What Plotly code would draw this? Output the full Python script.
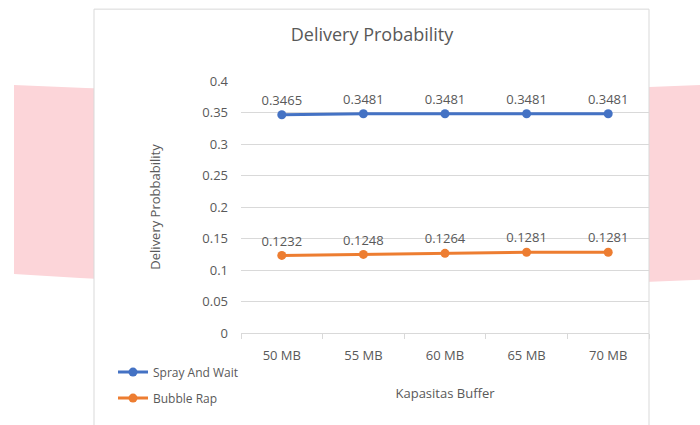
import plotly.graph_objects as go

# data
buffer_sizes = ["50 MB", "55 MB", "60 MB", "65 MB", "70 MB"]
spray_and_wait = [0.3465, 0.3481, 0.3481, 0.3481, 0.3481]
bubble_rap = [0.1232, 0.1248, 0.1264, 0.1281, 0.1281]

W, H = 700, 425
ML, MR, MT, MB = 241, 51, 81, 88
PW, PH = W - ML - MR, H - MT - MB

def px(x):
    return (x - ML) / PW

def py(y):
    return (H - MB - y) / PH

FONT = "Open Sans, Noto Sans, sans-serif"
TXT = "#595959"
GRID = "#d9d9d9"

fig = go.Figure()

fig.add_trace(go.Scatter(
    x=buffer_sizes, y=spray_and_wait, name="Spray And Wait",
    mode="lines+markers+text",
    text=[f"{v:.4f}" for v in spray_and_wait], textposition="top center",
    textfont=dict(color=TXT, size=13),
    line=dict(color="#4472C4", width=3),
    marker=dict(color="#4472C4", size=9),
    legendgroup="a",
))
fig.add_trace(go.Scatter(
    x=buffer_sizes, y=bubble_rap, name="Bubble Rap",
    mode="lines+markers+text",
    text=[f"{v:.4f}" for v in bubble_rap], textposition="top center",
    textfont=dict(color=TXT, size=13),
    line=dict(color="#ED7D31", width=3),
    marker=dict(color="#ED7D31", size=9),
    legendgroup="b",
))

# pink watermark band of the page behind the chart
band = (f"M {px(14)},{py(85)} Q {px(357)},{py(101)} {px(700)},{py(85)} "
        f"L {px(700)},{py(283)} Q {px(357)},{py(300)} {px(14)},{py(277)} Z")
fig.add_shape(type="path", path=band, xref="paper", yref="paper",
              fillcolor="#fcd5d9", line=dict(width=0), layer="below")
# chart box
fig.add_shape(type="rect", xref="paper", yref="paper",
              x0=px(94), x1=px(649), y0=py(8), y1=py(440),
              fillcolor="white", line=dict(color=GRID, width=1), layer="below")

fig.update_layout(
    width=W, height=H,
    margin=dict(l=ML, r=MR, t=MT, b=MB),
    paper_bgcolor="white", plot_bgcolor="rgba(0,0,0,0)",
    font=dict(family=FONT, color=TXT, size=13),
    title=dict(text="Delivery Probability", x=372 / W, xanchor="center",
               y=1 - 35 / H, yanchor="middle",
               font=dict(size=18, color=TXT)),
    legend=dict(x=px(113), xanchor="left", y=py(362), yanchor="top",
                traceorder="grouped", tracegroupgap=7,
                font=dict(size=12, color=TXT), bgcolor="rgba(0,0,0,0)"),
    showlegend=True,
)

fig.update_xaxes(
    range=[-0.5, len(buffer_sizes) - 0.5],
    showgrid=False, showline=True, linecolor=GRID, linewidth=1,
    ticks="outside", tickson="boundaries", ticklen=5, tickcolor=GRID,
    tickfont=dict(size=13, color=TXT), ticklabelstandoff=10,
    title=dict(text="Kapasitas Buffer", standoff=26, font=dict(size=13, color=TXT)),
)
fig.update_yaxes(
    range=[0, 0.4], dtick=0.05, showgrid=True, gridcolor=GRID, gridwidth=1,
    zeroline=False, showline=False, ticks="",
    tickfont=dict(size=13, color=TXT), ticklabelstandoff=12,
    title=dict(text="Delivery Probbability", standoff=38, font=dict(size=13, color=TXT)),
)

# drop the default 8px page margin so the figure sits at the window corner
fig.write_html("out.html", config={"displayModeBar": False},
               post_script="document.body.style.margin='0';")
